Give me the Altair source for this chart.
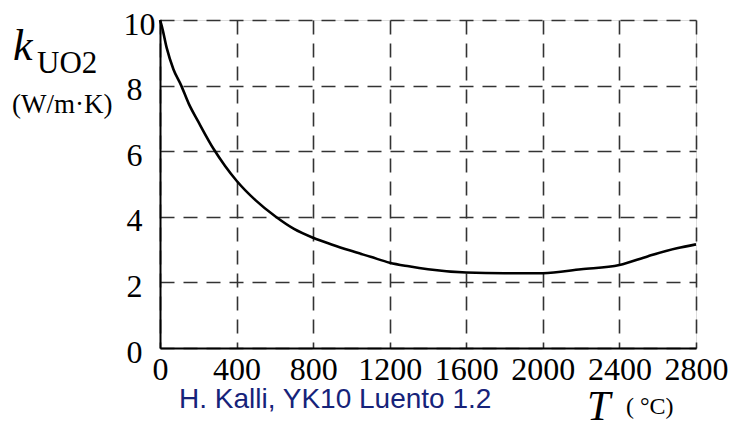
import altair as alt
import pandas as pd

# Temperature (°C) and thermal conductivity k_UO2 (W/m·K)
T_values = [0, 10, 35, 70, 111, 150, 200, 282, 340, 400, 500, 605, 700, 800, 900,
            994, 1100, 1200, 1300, 1400, 1600, 1800, 2000, 2200, 2400, 2550, 2700, 2800]
k_values = [10.0, 9.8, 9.15, 8.5, 8.0, 7.45, 6.9, 6.05, 5.55, 5.1, 4.5, 4.0, 3.63, 3.36, 3.15,
            2.97, 2.78, 2.6, 2.49, 2.4, 2.30, 2.28, 2.28, 2.40, 2.53, 2.80, 3.04, 3.16]
x_ticks = [0, 400, 800, 1200, 1600, 2000, 2400, 2800]
y_ticks = [0, 2, 4, 6, 8, 10]

df = pd.DataFrame({"T": T_values, "k": k_values})

SERIF = "Liberation Serif"
SANS = "Liberation Sans"

x_enc = alt.X(
    "T:Q",
    scale=alt.Scale(domain=[0, 2800], nice=False, zero=False),
    axis=alt.Axis(
        values=x_ticks, title=None, grid=True, ticks=False, format="d",
        labelFont=SERIF, labelFontSize=32, labelColor="black",
        labelPadding=6, labelFlush=False, labelOverlap=False,
        domainColor="black", domainWidth=2,
        gridColor="#333333", gridDash=[14, 9], gridWidth=1.6,
    ),
)
y_enc = alt.Y(
    "k:Q",
    scale=alt.Scale(domain=[0, 10], nice=False),
    axis=alt.Axis(
        values=y_ticks, title=None, grid=True, ticks=False, format="d",
        labelFont=SERIF, labelFontSize=32, labelColor="black",
        labelPadding={"condition": {"test": "datum.value == 10", "value": 5}, "value": 18},
        labelOffset=4, labelFlush=False, labelOverlap=False,
        domainColor="black", domainWidth=2,
        gridColor="#333333", gridDash=[14, 9], gridWidth=1.6,
    ),
)

curve = alt.Chart(df).mark_line(
    color="black", strokeWidth=2.6, interpolate="monotone"
).encode(x=x_enc, y=y_enc)

def label(text, x, y, size, font=SERIF, style="normal", color="black"):
    return alt.Chart(pd.DataFrame({"t": [text]})).mark_text(
        font=font, fontSize=size, fontStyle=style, color=color,
        align="left", baseline="alphabetic",
    ).encode(text="t:N", x=alt.value(x), y=alt.value(y))

k_lbl = label("k", -147, 40, 44, style="italic")
uo2_lbl = label("UO2", -123, 53, 31)
unit_lbl = label("(W/m·K)", -148, 93, 27)
t_lbl = label("T", 427, 400, 42, style="italic")
degc_lbl = label("( °C)", 466, 394, 24)
credit_lbl = label("H. Kalli, YK10 Luento 1.2", 19, 388, 28, font=SANS, color="#16237a")

chart = alt.layer(
    curve, k_lbl, uo2_lbl, unit_lbl, t_lbl, degc_lbl, credit_lbl
).properties(
    width=536, height=328,
    autosize=alt.AutoSizeParams(type="none"),
    padding={"left": 152, "top": 12, "right": 38, "bottom": 76},
).configure_view(
    stroke="black", strokeWidth=2
).configure(background="white")

chart.save("out.html", embed_options={"renderer": "svg", "actions": False})
